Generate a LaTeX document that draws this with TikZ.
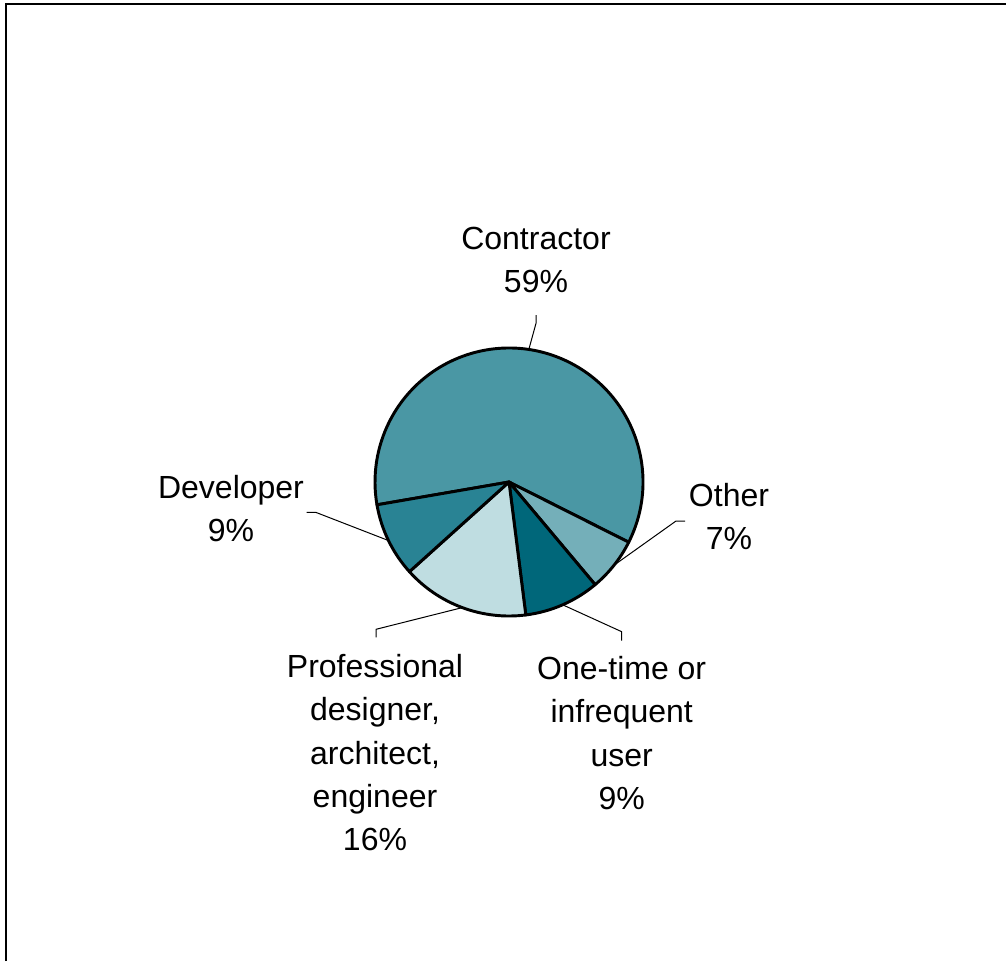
\documentclass[tikz,border=0pt]{standalone}
\usepackage{fontspec}
\setmainfont{Liberation Sans}
\usetikzlibrary{positioning}

\definecolor{contractorcol}{RGB}{74,151,164}
\definecolor{developercol}{RGB}{41,131,148}
\definecolor{professionalcol}{RGB}{191,221,225}
\definecolor{onetimecol}{RGB}{0,103,122}
\definecolor{othercol}{RGB}{116,175,185}

\begin{document}
\begin{tikzpicture}[
    x=0.75pt,
    y=0.75pt,
    slice/.style={draw=black,line width=2.2pt,line join=round},
    leader/.style={draw=black,line width=0.75pt},
    label node/.style={align=center,inner sep=0pt,anchor=north,font=\fontsize{24}{32.5}\selectfont}
]
\useasboundingbox (0,0) rectangle (1006,-961);

% Chart border
\draw[line width=1.5pt] (6,-961) -- (6,-4) -- (1006,-4);

% Pie
\coordinate (centre) at (509,-482);
\filldraw[slice, fill=contractorcol] (centre) -- ++(-26.7:134) arc[start angle=-26.7, end angle=189.8, radius=134] -- cycle;
\filldraw[slice, fill=othercol] (centre) -- ++(310:134) arc[start angle=310, end angle=333.3, radius=134] -- cycle;
\filldraw[slice, fill=onetimecol] (centre) -- ++(277.2:134) arc[start angle=277.2, end angle=310, radius=134] -- cycle;
\filldraw[slice, fill=professionalcol] (centre) -- ++(222:134) arc[start angle=222, end angle=277.2, radius=134] -- cycle;
\filldraw[slice, fill=developercol] (centre) -- ++(189.8:134) arc[start angle=189.8, end angle=222, radius=134] -- cycle;

% Labels
\node[label node] (contractor) at (536,-226.7) {Contractor\\59\%};
\node[label node] (developer) at (231,-475) {Developer\\9\%};
\node[label node] (other) at (729,-483) {Other\\7\%};
\node[label node] (professional) at (375,-654) {Professional\\designer,\\architect,\\engineer\\16\%};
\node[label node] (onetime) at (621.7,-656) {One-time or\\infrequent\\user\\9\%};

% Leader lines
\path (centre) ++(81.5:134) coordinate (contractor edge);
\path (centre) ++(205.9:134) coordinate (developer edge);
\path (centre) ++(321.65:134) coordinate (other edge);
\path (centre) ++(249.6:134) coordinate (professional edge);
\path (centre) ++(293.6:134) coordinate (onetime edge);

\coordinate (contractor bend) at (536,-323.3);
\coordinate (contractor tip) at (536,-315);
\coordinate (developer bend) at (315.7,-512.3);
\coordinate (developer tip) at (306.7,-512.3);
\coordinate (other bend) at (676,-521);
\coordinate (other tip) at (685,-521);
\coordinate (professional bend) at (376,-629.3);
\coordinate (professional tip) at (376,-637.3);
\coordinate (onetime bend) at (621.7,-631.7);
\coordinate (onetime tip) at (621.7,-640.7);

\draw[leader] (contractor edge) -- (contractor bend) -- (contractor tip);
\draw[leader] (developer edge) -- (developer bend) -- (developer tip);
\draw[leader] (other edge) -- (other bend) -- (other tip);
\draw[leader] (professional edge) -- (professional bend) -- (professional tip);
\draw[leader] (onetime edge) -- (onetime bend) -- (onetime tip);

\end{tikzpicture}
\end{document}
